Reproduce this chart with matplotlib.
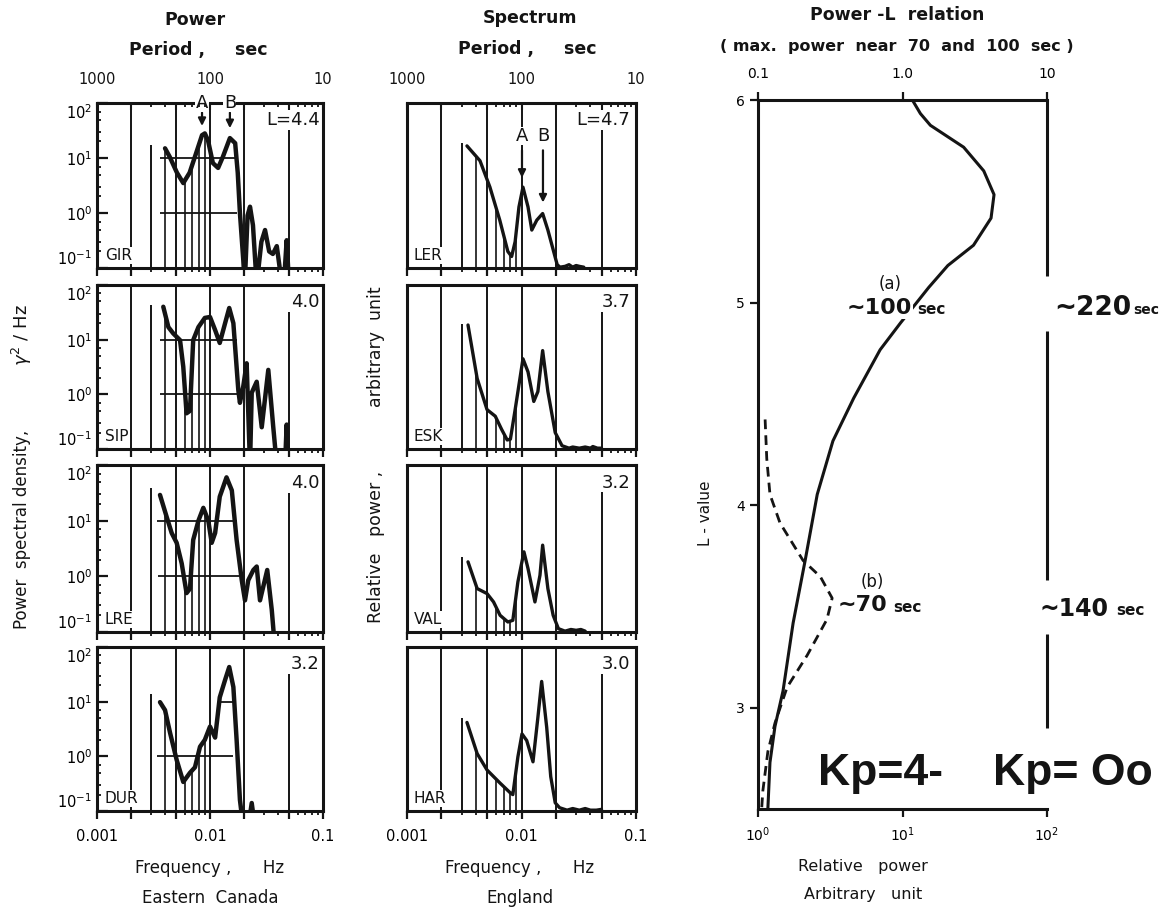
import numpy as np
import matplotlib
matplotlib.use("Agg")
import matplotlib.pyplot as plt
from matplotlib.ticker import FixedLocator, NullFormatter, FixedFormatter, LogFormatterMathtext, LogLocator, NullLocator

plt.rcParams['font.family'] = ['DejaVu Sans']
INK = '#141414'

# ---------------- data: Eastern Canada (log power spectral density) ----------------
stations_left = ["GIR", "SIP", "LRE", "DUR"]
lvalues_left = ["L=4.4", "4.0", "4.0", "3.2"]

gir_f = [0.0040, 0.0044, 0.0051, 0.0058, 0.0066, 0.0077, 0.0085, 0.0090, 0.0096, 0.0106, 0.0118, 0.0130,
         0.0150, 0.0167, 0.0176, 0.0184, 0.0197, 0.0203, 0.0215, 0.0226, 0.0240, 0.0259, 0.0285, 0.0307,
         0.0334, 0.0360, 0.0390, 0.0433, 0.0460, 0.0477, 0.0500]
gir_p = [15, 10.5, 5.4, 3.5, 5.4, 14, 26, 28, 21, 8.1, 6.6, 10.5,
         23, 18.6, 5.4, 1.0, 0.14, 0.05, 0.9, 1.3, 0.6, 0.05, 0.3, 0.49,
         0.2, 0.18, 0.25, 0.05, 0.1, 0.32, 0.05]

sip_f = [0.00386, 0.00428, 0.00473, 0.00543, 0.0058, 0.0062, 0.00665, 0.0071, 0.0079, 0.0090, 0.0100, 0.0111,
         0.0122, 0.0136, 0.0148, 0.0161, 0.0178, 0.0184, 0.0197, 0.0211, 0.0226, 0.0234, 0.0259, 0.0287,
         0.0328, 0.0363, 0.0390, 0.0461, 0.0477, 0.0493]
sip_p = [40, 17, 13, 9.8, 3.2, 0.45, 0.5, 9.8, 17, 25, 26, 15,
         8.7, 20, 38, 20, 1.2, 0.7, 1.4, 3.7, 0.05, 1.07, 1.7, 0.25,
         2.8, 0.25, 0.05, 0.05, 0.28, 0.05]

lre_f = [0.00361, 0.00414, 0.00458, 0.00507, 0.00562, 0.0062, 0.00665, 0.0071, 0.0079, 0.00873, 0.00966, 0.01035,
         0.0111, 0.0122, 0.0140, 0.0156, 0.0172, 0.0191, 0.0204, 0.0218, 0.0242, 0.0259, 0.0277, 0.0321,
         0.0352, 0.0376]
lre_p = [29, 11.6, 6, 4, 1.7, 0.5, 0.6, 4.5, 10, 17, 10, 4,
         6, 27, 60, 35, 4.5, 0.85, 0.37, 0.85, 1.3, 1.5, 0.37, 1.3,
         0.25, 0.05]

dur_f = [0.00361, 0.0040, 0.00443, 0.00507, 0.0058, 0.00665, 0.00736, 0.00816, 0.0090, 0.0100, 0.0111, 0.0122,
         0.0136, 0.0148, 0.0161, 0.0172, 0.0184, 0.0197, 0.0218, 0.0234, 0.0250]
dur_p = [9.8, 7, 2.7, 0.86, 0.34, 0.5, 0.63, 1.5, 2.0, 3.5, 2.2, 12,
         25, 43, 18.5, 2.0, 0.16, 0.05, 0.05, 0.14, 0.05]

# ---------------- data: England (relative power, arbitrary unit) ----------------
stations_mid = ["LER", "ESK", "VAL", "HAR"]
lvalues_mid = ["L=4.7", "3.7", "3.2", "3.0"]

ler_f = [0.00334, 0.00434, 0.0053, 0.00646, 0.0076, 0.0082, 0.0088, 0.0095, 0.0103, 0.0114, 0.0123, 0.0136,
         0.0153, 0.0170, 0.0205, 0.0217, 0.024, 0.026, 0.028, 0.030, 0.032, 0.035]
ler_v = [0.74, 0.65, 0.49, 0.29, 0.10, 0.07, 0.16, 0.37, 0.49, 0.37, 0.23, 0.29,
         0.33, 0.23, 0.02, 0.005, 0.01, 0.02, 0.005, 0.015, 0.01, 0.005]

esk_f = [0.00341, 0.0041, 0.0050, 0.0059, 0.0067, 0.0075, 0.0080, 0.0088, 0.0103, 0.0114, 0.0128, 0.0139,
         0.0153, 0.0170, 0.0197, 0.0226, 0.026, 0.028, 0.032, 0.036, 0.040, 0.042, 0.046, 0.050]
esk_v = [0.756, 0.43, 0.24, 0.20, 0.12, 0.055, 0.06, 0.24, 0.55, 0.47, 0.29, 0.35,
         0.60, 0.35, 0.10, 0.02, 0.005, 0.012, 0.005, 0.012, 0.005, 0.015, 0.005, 0.005]

val_f = [0.00341, 0.0041, 0.0050, 0.0057, 0.0065, 0.0076, 0.0084, 0.0093, 0.0105, 0.0114, 0.0131, 0.0145,
         0.0153, 0.0170, 0.0189, 0.0210, 0.024, 0.027, 0.030, 0.033, 0.036]
val_v = [0.42, 0.26, 0.23, 0.18, 0.10, 0.06, 0.07, 0.30, 0.48, 0.38, 0.18, 0.34,
         0.52, 0.26, 0.10, 0.02, 0.005, 0.015, 0.01, 0.015, 0.005]

har_f = [0.00334, 0.0041, 0.0050, 0.0065, 0.0080, 0.0084, 0.0093, 0.0101, 0.0111, 0.0126, 0.0139, 0.0150,
         0.0166, 0.0180, 0.0197, 0.0215, 0.025, 0.028, 0.032, 0.036, 0.040, 0.045, 0.050]
har_v = [0.54, 0.35, 0.25, 0.17, 0.11, 0.10, 0.33, 0.47, 0.43, 0.30, 0.57, 0.79,
         0.51, 0.21, 0.05, 0.02, 0.005, 0.015, 0.005, 0.015, 0.005, 0.005, 0.01]

# ---------------- data: Power-L relation ----------------
solid_L = [6.0, 5.933, 5.875, 5.767, 5.65, 5.533, 5.417, 5.283, 5.183, 5.075, 4.9, 4.767, 4.529, 4.317,
           4.053, 3.727, 3.418, 3.083, 2.907, 2.73, 2.5]
solid_P = [11.7, 13.3, 15.6, 26.5, 36.5, 43, 41, 31, 20.6, 15.2, 9.7, 7.0, 4.6, 3.3,
           2.57, 2.12, 1.75, 1.49, 1.31, 1.21, 1.17]
dashed_L = [4.423, 4.229, 4.053, 3.912, 3.727, 3.647, 3.541, 3.436, 3.259, 3.101, 2.924, 2.783, 2.589, 2.5]
dashed_P = [1.12, 1.15, 1.21, 1.42, 2.05, 2.7, 3.26, 3.0, 2.19, 1.59, 1.31, 1.17, 1.08, 1.06]

# ---------------- layout (pixels) ----------------
W, H = 1162, 909
fig = plt.figure(figsize=(W / 100, H / 100), dpi=100)


def rect(x0, y0, x1, y1):
    return [x0 / W, 1 - y1 / H, (x1 - x0) / W, (y1 - y0) / H]


rows = [(103, 268), (285, 449), (465, 632), (647, 811)]
left_x = (97, 323)
mid_x = (407, 636)

full_lines = [0.002, 0.005, 0.01, 0.02]
under_lines = [0.004, 0.006, 0.007, 0.008, 0.009]
left_cut3 = [17, 43, 39, 14]
left_hsegs = [
    [(10, 0.0036, 0.0175), (1, 0.0036, 0.0175)],
    [(10, 0.0036, 0.0175), (1, 0.0036, 0.0175)],
    [(10, 0.0034, 0.0175), (1, 0.0035, 0.0182)],
    [(10, 0.0125, 0.0161), (1, 0.0034, 0.0161)],
]
mid_cut3 = [0.76, 0.76, 0.45, 0.57]

major_x = [0.001, 0.002, 0.005, 0.01, 0.02, 0.05, 0.1]
minor_x = [0.003, 0.004, 0.006, 0.007, 0.008, 0.009, 0.03, 0.04, 0.06, 0.07, 0.08, 0.09]


def style_freq_axis(ax, first, last):
    ax.set_xscale('log')
    ax.set_xlim(1e-3, 1e-1)
    ax.xaxis.set_major_locator(FixedLocator(major_x))
    ax.xaxis.set_minor_locator(FixedLocator(minor_x))
    ax.xaxis.set_minor_formatter(NullFormatter())
    if last:
        ax.xaxis.set_major_formatter(FixedFormatter(["0.001", "", "", "0.01", "", "", "0.1"]))
    else:
        ax.xaxis.set_major_formatter(NullFormatter())
    ax.tick_params(axis='x', which='major', direction='out', length=6, width=1.6, labelsize=10.5, pad=7,
                   color=INK)
    ax.tick_params(axis='x', which='minor', direction='out', length=3, width=1.3, color=INK)
    for s in ax.spines.values():
        s.set_linewidth(2.2)
        s.set_color(INK)
    if first:
        axt = ax.twiny()
        axt.set_xscale('log')
        axt.set_xlim(1e-3, 1e-1)
        axt.xaxis.set_major_locator(FixedLocator(major_x))
        axt.xaxis.set_minor_locator(FixedLocator(minor_x))
        axt.xaxis.set_major_formatter(NullFormatter())
        axt.xaxis.set_minor_formatter(NullFormatter())
        axt.tick_params(axis='x', which='major', direction='in', length=5, width=1.5, color=INK)
        axt.tick_params(axis='x', which='minor', direction='in', length=3, width=1.3, color=INK)
        for s in axt.spines.values():
            s.set_visible(False)


left_data = [(gir_f, gir_p), (sip_f, sip_p), (lre_f, lre_p), (dur_f, dur_p)]
mid_data = [(ler_f, ler_v), (esk_f, esk_v), (val_f, val_v), (har_f, har_v)]
periods = [1000, 100, 10]

for i, ((f, p), (y0, y1)) in enumerate(zip(left_data, rows)):
    ax = fig.add_axes(rect(left_x[0], y0, left_x[1], y1))
    style_freq_axis(ax, i == 0, i == 3)
    ax.set_yscale('log')
    ax.set_ylim(0.1, 100)
    ax.yaxis.set_major_locator(FixedLocator([0.1, 1, 10, 100]))
    ax.yaxis.set_major_formatter(LogFormatterMathtext())
    ax.yaxis.set_minor_locator(LogLocator(base=10, subs=(2, 3, 5, 7)))
    ax.yaxis.set_minor_formatter(NullFormatter())
    ax.tick_params(axis='y', which='major', direction='in', length=8, width=1.6, labelsize=10.5, color=INK)
    ax.tick_params(axis='y', which='minor', direction='in', length=3, width=1.3, color=INK)
    lf, lp = np.log10(f), np.log10(p)
    for gx in full_lines:
        ax.axvline(gx, color=INK, lw=1.4)
    ax.vlines(0.003, 0.1, left_cut3[i], color=INK, lw=1.4)
    ax.vlines(0.05, 0.1, 32, color=INK, lw=1.4)
    for gx in under_lines:
        top = 10 ** np.interp(np.log10(gx), lf, lp)
        ax.vlines(gx, 0.1, top, color=INK, lw=1.2)
    for yv, xa, xb in left_hsegs[i]:
        ax.hlines(yv, xa, xb, color=INK, lw=1.3)
    ax.plot(f, p, color=INK, lw=3.2, solid_joinstyle='round', solid_capstyle='round')
    ax.text(0.985, 0.895, lvalues_left[i], transform=ax.transAxes, ha='right', va='center', fontsize=13,
            color=INK, bbox=dict(facecolor='white', edgecolor='none', pad=0.5))
    ax.text(0.035, 0.075, stations_left[i], transform=ax.transAxes, ha='left', va='center', fontsize=11,
            color=INK, bbox=dict(facecolor='white', edgecolor='none', pad=0.5))
    fig.canvas.draw_idle()
    ylabels = ax.yaxis.get_majorticklabels()
    ylabels[0].set_va('bottom')
    ylabels[-1].set_va('top')
    if i == 0:
        for pr in periods:
            ax.text(1.0 / pr, 1.14, str(pr), transform=ax.get_xaxis_transform(), ha='center', va='center',
                    fontsize=10.5, color=INK)
        for lab, fx, tip in [("A", 0.0085, 34), ("B", 0.015, 31)]:
            ax.annotate('', xy=(fx, tip), xytext=(fx, 75),
                        arrowprops=dict(arrowstyle='-|>', color=INK, lw=1.6, mutation_scale=11))
            ax.text(fx, 100, lab, ha='center', va='center', fontsize=13, color=INK,
                    bbox=dict(facecolor='white', edgecolor='none', pad=0.3))

for i, ((f, v), (y0, y1)) in enumerate(zip(mid_data, rows)):
    ax = fig.add_axes(rect(mid_x[0], y0, mid_x[1], y1))
    style_freq_axis(ax, i == 0, i == 3)
    ax.set_ylim(0, 1)
    ax.yaxis.set_major_locator(NullLocator())
    lf = np.log10(f)
    for gx in full_lines:
        ax.axvline(gx, color=INK, lw=1.4)
    ax.vlines(0.003, 0, mid_cut3[i], color=INK, lw=1.4)
    ax.vlines(0.05, 0, 0.86, color=INK, lw=1.4)
    for gx in under_lines:
        top = np.interp(np.log10(gx), lf, v)
        ax.vlines(gx, 0, top, color=INK, lw=1.2)
    ax.plot(f, v, color=INK, lw=2.4, solid_joinstyle='round', solid_capstyle='round')
    ax.text(0.975, 0.895, lvalues_mid[i], transform=ax.transAxes, ha='right', va='center', fontsize=13,
            color=INK, bbox=dict(facecolor='white', edgecolor='none', pad=0.5))
    ax.text(0.03, 0.075, stations_mid[i], transform=ax.transAxes, ha='left', va='center', fontsize=11,
            color=INK, bbox=dict(facecolor='white', edgecolor='none', pad=0.5))
    if i == 0:
        for pr in periods:
            ax.text(1.0 / pr, 1.14, str(pr), transform=ax.get_xaxis_transform(), ha='center', va='center',
                    fontsize=10.5, color=INK)
        for lab, fx, tip in [("A", 0.0101, 0.53), ("B", 0.0154, 0.38)]:
            ax.annotate('', xy=(fx, tip), xytext=(fx, 0.73),
                        arrowprops=dict(arrowstyle='-|>', color=INK, lw=1.6, mutation_scale=11))
            ax.text(fx, 0.80, lab, ha='center', va='center', fontsize=13, color=INK,
                    bbox=dict(facecolor='white', edgecolor='none', pad=0.3))

# ---------------- right panel ----------------
axr = fig.add_axes(rect(758, 100, 1047, 809))
axr.set_xscale('log')
axr.set_xlim(1, 100)
axr.set_ylim(2.5, 6)
axr.spines['right'].set_visible(False)
for s in ['left', 'top', 'bottom']:
    axr.spines[s].set_linewidth(2.2)
    axr.spines[s].set_color(INK)
axr.xaxis.set_major_locator(FixedLocator([1, 10, 100]))
axr.xaxis.set_major_formatter(LogFormatterMathtext())
axr.xaxis.set_minor_locator(NullLocator())
axr.yaxis.set_major_locator(FixedLocator([3, 4, 5, 6]))
axr.tick_params(axis='both', direction='out', length=6, width=1.6, labelsize=10, color=INK, top=False)
axr.tick_params(axis='x', pad=6)
for lo, hi in [(5.133, 6.0), (3.63, 4.858), (2.898, 3.365)]:
    axr.vlines(100, lo, hi, color=INK, lw=2.2, clip_on=False)

ax2 = axr.twiny()
ax2.set_xscale('log')
ax2.set_xlim(0.1, 10)
ax2.xaxis.set_major_locator(FixedLocator([0.1, 1, 10]))
ax2.xaxis.set_major_formatter(FixedFormatter(["0.1", "1.0", "10"]))
ax2.xaxis.set_minor_locator(NullLocator())
for s in ax2.spines.values():
    s.set_visible(False)
ax2.tick_params(axis='x', direction='out', length=6, width=1.6, labelsize=10, color=INK, pad=8)

axr.plot(solid_P, solid_L, color=INK, lw=2.2, solid_capstyle='round')
axr.plot(dashed_P, dashed_L, color=INK, lw=2.0, linestyle=(0, (3.5, 2.2)))

wb = dict(facecolor='white', edgecolor='none', pad=1.0)
axr.text(8.2, 5.09, "(a)", ha='center', va='center', fontsize=12, color=INK)
axr.text(11.6, 4.975, "~100", ha='right', va='center', fontsize=16, fontweight='bold', color=INK, bbox=wb)
axr.text(12.6, 4.965, "sec", ha='left', va='center', fontsize=11, fontweight='bold', color=INK)
axr.text(385, 4.975, "~220", ha='right', va='center', fontsize=19, fontweight='bold', color=INK,
         clip_on=False)
axr.text(398, 4.965, "sec", ha='left', va='center', fontsize=10, fontweight='bold', color=INK, clip_on=False)
axr.text(6.2, 3.62, "(b)", ha='center', va='center', fontsize=12, color=INK)
axr.text(7.9, 3.506, "~70", ha='right', va='center', fontsize=16, fontweight='bold', color=INK)
axr.text(8.6, 3.496, "sec", ha='left', va='center', fontsize=11, fontweight='bold', color=INK)
axr.text(265, 3.489, "~140", ha='right', va='center', fontsize=17, fontweight='bold', color=INK,
         clip_on=False, bbox=wb)
axr.text(300, 3.479, "sec", ha='left', va='center', fontsize=11, fontweight='bold', color=INK, clip_on=False)
axr.text(7.0, 2.673, "Kp=4-", ha='center', va='center', fontsize=32, fontweight='bold', color=INK,
         family=['Liberation Sans', 'DejaVu Sans'])
axr.text(150, 2.673, "Kp= Oo", ha='center', va='center', fontsize=32, fontweight='bold', color=INK,
         clip_on=False, family=['Liberation Sans', 'DejaVu Sans'])

# ---------------- figure texts ----------------
ft = dict(ha='center', va='center', color=INK)
fig.text(195 / W, 1 - 20 / H, "Power", fontsize=12.5, fontweight='bold', **ft)
fig.text(198 / W, 1 - 50 / H, "Period ,     sec", fontsize=12.5, fontweight='bold', **ft)
fig.text(530 / W, 1 - 18 / H, "Spectrum", fontsize=12.5, fontweight='bold', **ft)
fig.text(527 / W, 1 - 49 / H, "Period ,     sec", fontsize=12.5, fontweight='bold', **ft)
fig.text(897 / W, 1 - 15 / H, "Power -L  relation", fontsize=12.5, fontweight='bold', **ft)
fig.text(897 / W, 1 - 46 / H, "( max.  power  near  70  and  100  sec )", fontsize=11.5, fontweight='bold', **ft)

fig.text(210 / W, 1 - 868 / H, "Frequency ,      Hz", fontsize=12, **ft)
fig.text(210 / W, 1 - 898 / H, "Eastern  Canada", fontsize=12, **ft)
fig.text(520 / W, 1 - 868 / H, "Frequency ,      Hz", fontsize=12, **ft)
fig.text(520 / W, 1 - 898 / H, "England", fontsize=12, **ft)
fig.text(863 / W, 1 - 866 / H, "Relative   power", fontsize=11.5, **ft)
fig.text(863 / W, 1 - 895 / H, "Arbitrary   unit", fontsize=11.5, **ft)

fig.text(22 / W, 1 - 529 / H, "Power  spectral density,", fontsize=12, rotation=90, **ft)
fig.text(22 / W, 1 - 335 / H, r"$\gamma^2$ / Hz", fontsize=13, rotation=90, **ft)
fig.text(376 / W, 1 - 547 / H, "Relative   power ,", fontsize=12.5, rotation=90, **ft)
fig.text(376 / W, 1 - 347 / H, "arbitrary  unit", fontsize=12.5, rotation=90, **ft)
fig.text(705 / W, 1 - 513 / H, "L - value", fontsize=11, rotation=90, **ft)

fig.savefig("out.png", dpi=100, facecolor='white')
